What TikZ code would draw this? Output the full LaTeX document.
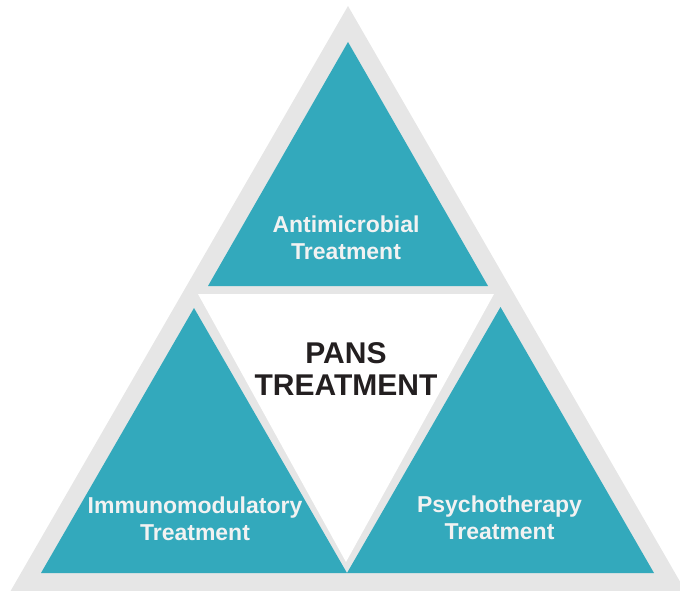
\documentclass[tikz,border=0pt]{standalone}
\usepackage{fontspec}
\setmainfont{Liberation Sans}
\definecolor{bandgray}{HTML}{E6E6E6}
\definecolor{tealfill}{HTML}{33A9BC}
\definecolor{darktext}{HTML}{231F20}
\definecolor{lighttext}{HTML}{F2F2F2}
\tikzset{
  tealtri/.style={fill=tealfill},
  label/.style={font=\bfseries\fontsize{23}{27}\selectfont, text=lighttext, align=center, inner sep=0pt},
  title/.style={font=\bfseries\fontsize{30}{32}\selectfont, text=darktext, align=center, inner sep=0pt}
}
\begin{document}
\begin{tikzpicture}[x=1pt,y=1pt]
\useasboundingbox (0,0) rectangle (680,590);
\clip (0,0) rectangle (680,590);
% outer gray triangle
\coordinate (oA) at (348,584);
\coordinate (oL) at (10,-2);
\coordinate (oR) at (686,-2);
\fill[bandgray] (oA) -- (oL) -- (oR) -- cycle;
% inner white triangle
\coordinate (wL) at (198,296);
\coordinate (wR) at (494,296);
\coordinate (wB) at (346,28);
\fill[white] (wL) -- (wR) -- (wB) -- cycle;
% top teal
\coordinate (tA) at (348,548);
\coordinate (tL) at (208,304);
\coordinate (tR) at (488,304);
\fill[tealtri] (tA) -- (tL) -- (tR) -- cycle;
% bottom-left teal
\coordinate (lA) at (194,282);
\coordinate (lL) at (41,17);
\coordinate (lR) at (347,17);
\fill[tealtri] (lA) -- (lL) -- (lR) -- cycle;
% bottom-right teal
\coordinate (rA) at (500.5,283);
\coordinate (rL) at (347,17);
\coordinate (rR) at (654,17);
\fill[tealtri] (rA) -- (rL) -- (rR) -- cycle;
% texts
\node[label] (anti) at (346,352.7) {Antimicrobial\\Treatment};
\node[title] (pans) at (346,221.4) {PANS\\TREATMENT};
\node[label] (immu) at (195,71.7) {Immunomodulatory\\Treatment};
\node[label] (psyc) at (499.5,72.2) {Psychotherapy\\Treatment};
\end{tikzpicture}
\end{document}
